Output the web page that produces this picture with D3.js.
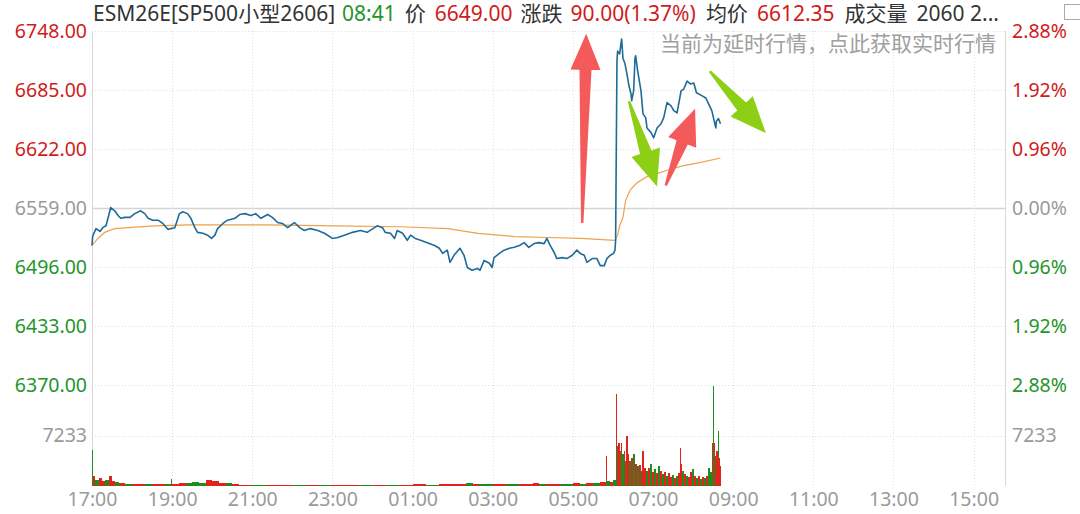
<!DOCTYPE html>
<html>
<head>
<meta charset="utf-8">
<script src="https://cdn.jsdelivr.net/npm/d3@7"></script>
<style>
body { margin: 0; background: #fff; }
svg text { font-family: "Noto Sans", "Noto Sans CJK SC", sans-serif; }
</style>
</head>
<body>
<div id="chart"></div>
<script>
// ---- data ----
var symbol = "ESM26E[SP500小型2606]";
var quoteTime = "08:41";
var volumeText = "2060 2...";
var noticeText = "当前为延时行情，点此获取实时行情";
var prevClose = 6559;
var sessionEnd = "15:47";

var priceTicks = [6748, 6685, 6622, 6559, 6496, 6433, 6370];
var volTicks = [7233];
var volMax = 14466;
var timeTicks = ["17:00", "19:00", "21:00", "23:00", "01:00", "03:00", "05:00",
    "07:00", "09:00", "11:00", "13:00", "15:00"];

var priceTimes = ["17:00","17:01","17:06","17:12","17:16","17:21","17:25","17:28","17:34","17:39",
    "17:43","17:49","17:57","18:04","18:13","18:19","18:24","18:31","18:39","18:46",
    "18:54","18:58","19:04","19:11","19:16","19:23","19:28","19:34","19:38","19:46",
    "19:53","19:59","20:04","20:08","20:16","20:23","20:34","20:41","20:49","20:58",
    "21:05","21:13","21:23","21:30","21:38","21:45","21:53","22:03","22:11","22:18",
    "22:27","22:38","22:48","23:00","23:08","23:18","23:30","23:42","23:52","00:03",
    "00:07","00:15","00:19","00:27","00:33","00:37","00:45","00:52","00:57","01:04",
    "01:12","01:22","01:33","01:40","01:45","01:52","01:56","02:02","02:11","02:17",
    "02:22","02:29","02:37","02:41","02:47","02:55","02:59","03:02","03:10","03:17",
    "03:25","03:32","03:40","03:47","03:54","04:02","04:09","04:17","04:21","04:26",
    "04:32","04:36","04:44","04:51","04:59","05:06","05:11","05:17","05:21","05:29",
    "05:36","05:41","05:47","05:51","05:56","06:01","06:03","06:04","06:06","06:07",
    "06:10","06:13","06:15","06:18","06:21","06:24","06:27","06:28","06:31","06:33",
    "06:34","06:37","06:42","06:45","06:49","06:51","06:57","07:01","07:06","07:12",
    "07:16","07:21","07:27","07:31","07:36","07:42","07:46","07:51","07:56","08:01",
    "08:05","08:13","08:19","08:23","08:28","08:34","08:35","08:38","08:41"];
var prices = [6519,6529,6537,6534,6538,6540,6551,6559.5,6556,6551,
    6548,6549,6549,6553,6556,6553,6548,6546,6546,6542.5,
    6536,6537,6538,6553,6555,6553,6548,6538,6533,6532,
    6530,6526.5,6530,6537,6542.5,6546,6548,6552,6553,6551,
    6553,6548,6552,6549,6543.5,6542.5,6538,6543.5,6538,6535,
    6537,6535,6532,6526.5,6527.5,6530,6533,6535,6533,6538,
    6540,6538,6533,6532,6526.5,6535,6532,6524.5,6530,6526.5,
    6524.5,6522,6519,6516,6510.5,6514,6501,6508.5,6516,6508.5,
    6495.5,6492.5,6494.5,6492.5,6503,6500,6495.5,6506,6510.5,6514,
    6516,6517,6519,6522,6517,6521,6522,6521,6526.5,6519,
    6511.5,6505,6506,6505,6508.5,6514,6510.5,6508.5,6501,6505,
    6505,6497.5,6497.5,6505,6508.5,6510.5,6514,6524.5,6716,6726.5,
    6723.5,6739.5,6719,6713,6702,6689.5,6681,6673.5,6684,6719,
    6721.5,6705.5,6684,6659.5,6655.5,6644.5,6639.5,6634,6644.5,6649,
    6655.5,6671.5,6668,6663,6660.5,6684,6686,6694.5,6691.5,6692.5,
    6682,6679,6676.5,6670.5,6663,6644.5,6652,6654.5,6649];

var avgTimes = ["17:00","17:09","17:19","17:34","17:54","18:34","19:23","21:23","23:04","00:43",
    "01:53","02:38","03:33","04:23","05:12","06:03","06:07","06:10","06:15","06:19",
    "06:26","06:36","06:51","07:07","07:20","07:44","08:10","08:41"];
var avgPrices = [6519,6526.5,6533,6537,6538,6540,6541,6541,6540,6539,
    6537,6532,6528.5,6527.5,6526.5,6524.5,6530,6540,6549,6567,
    6578.5,6586,6592.5,6596,6599,6604,6607.5,6612.35];

// volume: bar starts at volTimes[i] and runs to the next entry; 1 = red, 0 = green
var volTimes = ["17:00","17:01","17:05","17:10","17:15","17:20","17:25","17:30","17:35","17:40",
    "17:50","18:00","18:10","18:20","18:30","18:40","18:50","18:58","18:59","19:10",
    "19:20","19:30","19:40","19:50","20:00","20:10","20:20","20:30","20:40","21:00",
    "21:20","21:40","22:00","22:20","22:40","23:00","23:20","23:40","00:00","00:20",
    "00:40","01:00","01:20","01:40","02:00","02:20","02:30","02:40","03:00","03:20",
    "03:40","04:00","04:10","04:20","04:40","05:00","05:10","05:20","05:30","05:40",
    "05:49","05:50","05:55","06:00","06:04","06:05","06:06","06:08","06:10","06:12",
    "06:14","06:16","06:18","06:20","06:22","06:24","06:27","06:30","06:33","06:36",
    "06:39","06:42","06:44","06:46","06:49","06:52","06:55","06:58","07:01","07:04",
    "07:07","07:10","07:13","07:16","07:19","07:22","07:25","07:28","07:31","07:34",
    "07:37","07:41","07:42","07:44","07:47","07:50","07:53","07:56","07:59","08:02",
    "08:05","08:08","08:11","08:14","08:17","08:20","08:23","08:26","08:28","08:30",
    "08:31","08:33","08:35","08:37","08:38","08:39","08:40"];
var volumes = [5150,1430,860,1150,720,860,1430,720,570,430,
    290,290,290,290,290,290,290,1000,290,430,
    430,570,430,860,720,430,430,290,200,200,
    150,200,150,200,150,200,150,200,200,150,
    200,250,200,250,300,450,300,250,250,300,
    250,400,350,300,300,400,350,450,500,600,
    4300,700,600,800,13200,7900,5700,6200,5000,6200,
    4600,5000,3600,7200,4600,3600,4000,4600,3200,2900,
    3000,2200,5000,2600,2200,2600,3200,2000,2400,1800,
    2900,2200,1700,2000,1500,1800,1300,1600,1200,1500,
    1900,5400,3100,2200,1700,1500,1300,2000,2400,1400,
    1200,1500,1000,1300,1100,1500,2600,2000,6200,14300,
    6200,4300,5000,7900,4000,4000,2800];
var volUp = [0,1,0,1,1,0,1,1,0,1,
    0,1,1,0,1,1,0,0,1,1,
    0,0,0,1,1,1,0,1,1,0,
    1,1,0,1,0,1,1,0,1,0,
    1,1,0,1,1,0,1,0,1,0,
    1,1,0,1,0,1,0,1,0,1,
    1,0,1,0,1,1,0,1,0,1,
    0,1,0,1,1,0,1,0,1,0,
    1,0,1,1,0,1,0,1,0,1,
    0,1,0,1,0,1,1,0,1,0,
    1,1,1,0,1,0,1,1,0,1,
    0,1,0,1,0,1,0,0,1,0,
    1,0,1,0,1,1,1];

// hand-drawn arrows on the picture, given in (time, price)
var arrowFrom = [["05:14", 6543], ["07:19", 6583], ["06:24", 6673], ["08:25", 6705]];
var arrowTo = [["05:20", 6745], ["08:03", 6665], ["07:06", 6582], ["09:49", 6639]];
var arrowColor = ["#f45a5a", "#f45a5a", "#8dcf14", "#8dcf14"];

// ---- layout ----
var svgWidth = 1080, svgHeight = 514;
var plot = { left: 92, right: 1005, top: 31, priceBottom: 385, bottom: 486 };
var red = "#cf1c1c", green = "#23952a", gray = "#9a9a9a", dark = "#333";

function toMin(t) {
    var p = t.split(":");
    var m = (+p[0]) * 60 + (+p[1]) - 17 * 60;
    if (m < 0) m += 1440;
    return m;
}

var svg = d3.select("#chart").append("svg")
    .attr("width", svgWidth)
    .attr("height", svgHeight);

var x = d3.scaleLinear().domain([0, toMin(sessionEnd)]).range([plot.left, plot.right]);
var y = d3.scaleLinear().domain([priceTicks[priceTicks.length - 1], priceTicks[0]])
    .range([plot.priceBottom, plot.top]);
var yVol = d3.scaleLinear().domain([0, volMax]).range([plot.bottom, plot.priceBottom]);

function tickColor(d) {
    if (d > prevClose) return red;
    if (d < prevClose) return green;
    return gray;
}

// grid
var grid = svg.append("g");
grid.selectAll(".hgrid")
    .data(priceTicks)
    .enter()
    .append("line")
    .attr("x1", plot.left).attr("x2", plot.right)
    .attr("y1", d => Math.round(y(d)) + 0.5).attr("y2", d => Math.round(y(d)) + 0.5)
    .attr("stroke", d => d === prevClose ? "#d4d4d4" : "#dedede")
    .attr("stroke-width", d => d === prevClose ? 1.5 : 1)
    .attr("stroke-dasharray", d => d === prevClose ? null : "1,2");
grid.selectAll(".vgrid-vol")
    .data(volTicks)
    .enter()
    .append("line")
    .attr("x1", plot.left).attr("x2", plot.right)
    .attr("y1", d => Math.round(yVol(d)) + 0.5).attr("y2", d => Math.round(yVol(d)) + 0.5)
    .attr("stroke", "#dedede")
    .attr("stroke-dasharray", "1,2");
grid.selectAll(".vgrid")
    .data(timeTicks.slice(1))
    .enter()
    .append("line")
    .attr("x1", d => Math.round(x(toMin(d))) + 0.5).attr("x2", d => Math.round(x(toMin(d))) + 0.5)
    .attr("y1", plot.top).attr("y2", plot.bottom)
    .attr("stroke", "#dedede")
    .attr("stroke-dasharray", "1,2");
// borders
[plot.left, plot.right].forEach(function(bx) {
    grid.append("line")
        .attr("x1", bx + 0.5).attr("x2", bx + 0.5)
        .attr("y1", plot.top).attr("y2", plot.bottom)
        .attr("stroke", "#d8d8d8");
});

// volume bars
var endMin = toMin(quoteTime) + 0.5;
var volData = volTimes.map(function(t, i) {
    var t0 = toMin(t);
    var t1 = i < volTimes.length - 1 ? toMin(volTimes[i + 1]) : endMin;
    return { t0: t0, t1: t1, v: volumes[i], up: volUp[i] };
});
svg.append("g").selectAll("rect")
    .data(volData)
    .enter()
    .append("rect")
    .attr("x", d => x(d.t0))
    .attr("width", d => Math.max(x(d.t1) - x(d.t0), 1))
    .attr("y", d => yVol(d.v))
    .attr("height", d => plot.bottom - yVol(d.v))
    .attr("fill", d => d.up ? "#e0231c" : "#1e8c1e")
    .attr("shape-rendering", "crispEdges");

// average line
var avgData = avgTimes.map((t, i) => ({ t: toMin(t), p: avgPrices[i] }));
svg.append("path")
    .datum(avgData)
    .attr("fill", "none")
    .attr("stroke", "#f0a04b")
    .attr("stroke-width", 1.2)
    .attr("d", d3.line().x(d => x(d.t)).y(d => y(d.p)));

// price line
var priceData = priceTimes.map((t, i) => ({ t: toMin(t), p: prices[i] }));
svg.append("path")
    .datum(priceData)
    .attr("fill", "none")
    .attr("stroke", "#1f6b97")
    .attr("stroke-width", 1.6)
    .attr("stroke-linejoin", "round")
    .attr("d", d3.line().x(d => x(d.t)).y(d => y(d.p)));

// axes
var fontSize = "19.5px";
var leftAxis = svg.append("g")
    .attr("transform", `translate(${plot.left}, 0)`)
    .call(d3.axisLeft(y).tickValues(priceTicks).tickFormat(d3.format(".2f")).tickSize(0).tickPadding(5));
leftAxis.selectAll("text").attr("fill", d => tickColor(d));

var rightAxis = svg.append("g")
    .attr("transform", `translate(${plot.right}, 0)`)
    .call(d3.axisRight(y).tickValues(priceTicks)
        .tickFormat(d => (Math.abs(d - prevClose) / prevClose * 100).toFixed(2) + "%")
        .tickSize(0).tickPadding(7));
rightAxis.selectAll("text").attr("fill", d => tickColor(d));

var leftVol = svg.append("g")
    .attr("transform", `translate(${plot.left}, 0)`)
    .call(d3.axisLeft(yVol).tickValues(volTicks).tickFormat(d3.format("d")).tickSize(0).tickPadding(5));
var rightVol = svg.append("g")
    .attr("transform", `translate(${plot.right}, 0)`)
    .call(d3.axisRight(yVol).tickValues(volTicks).tickFormat(d3.format("d")).tickSize(0).tickPadding(7));
leftVol.selectAll("text").attr("fill", gray);
rightVol.selectAll("text").attr("fill", gray);

var xAxis = svg.append("g")
    .attr("transform", `translate(0, ${plot.bottom})`)
    .call(d3.axisBottom(x).tickValues(timeTicks.map(toMin))
        .tickFormat((d, i) => timeTicks[i]).tickSize(0).tickPadding(6));
xAxis.selectAll("text").attr("fill", gray);

[leftAxis, rightAxis, leftVol, rightVol, xAxis].forEach(function(a) {
    a.select(".domain").remove();
    a.selectAll("text").style("font-size", fontSize)
        .style("font-family", "'Noto Sans', 'Noto Sans CJK SC', sans-serif");
});

// arrows
function arrowPath(i) {
    var x0 = x(toMin(arrowFrom[i][0])), y0 = y(arrowFrom[i][1]);
    var x1 = x(toMin(arrowTo[i][0])), y1 = y(arrowTo[i][1]);
    var dx = x1 - x0, dy = y1 - y0, len = Math.sqrt(dx * dx + dy * dy);
    var ux = dx / len, uy = dy / len, nx = -uy, ny = ux;
    var head = 36, hw = 15, bw = 1.2, nw = 6;
    var cx = x1 - ux * head, cy = y1 - uy * head;
    var pts = [
        [x0 + nx * bw, y0 + ny * bw],
        [cx + nx * nw, cy + ny * nw],
        [cx + nx * hw, cy + ny * hw],
        [x1, y1],
        [cx - nx * hw, cy - ny * hw],
        [cx - nx * nw, cy - ny * nw],
        [x0 - nx * bw, y0 - ny * bw]
    ];
    return "M" + pts.map(p => p[0].toFixed(1) + "," + p[1].toFixed(1)).join("L") + "Z";
}
svg.append("g").selectAll("path")
    .data(arrowFrom)
    .enter()
    .append("path")
    .attr("d", (d, i) => arrowPath(i))
    .attr("fill", (d, i) => arrowColor[i]);

// notice
svg.append("text")
    .attr("x", 996).attr("y", 51)
    .attr("text-anchor", "end")
    .attr("fill", "#a0a0a0")
    .style("font-size", "21px")
    .text(noticeText);

// title line
var lastPrice = prices[prices.length - 1];
var chg = lastPrice - prevClose;
var title = [
    [symbol, dark, 0],
    [quoteTime, green, 7],
    ["价", dark, 9],
    [lastPrice.toFixed(2), red, 9],
    ["涨跌", dark, 8],
    [chg.toFixed(2) + "(" + (chg / prevClose * 100).toFixed(2) + "%)", red, 8],
    ["均价", dark, 10],
    [avgPrices[avgPrices.length - 1].toFixed(2), red, 9],
    ["成交量", dark, 10],
    [volumeText, dark, 9]
];
svg.append("text")
    .attr("x", 93).attr("y", 21)
    .style("font-size", "21px")
    .selectAll("tspan")
    .data(title)
    .enter()
    .append("tspan")
    .attr("dx", d => d[2])
    .attr("fill", d => d[1])
    .text(d => d[0]);

// small icon at the top right corner
svg.append("rect")
    .attr("x", 1064.5).attr("y", 4.5).attr("width", 18).attr("height", 15)
    .attr("fill", "none").attr("stroke", "#aaa");
</script>
</body>
</html>
